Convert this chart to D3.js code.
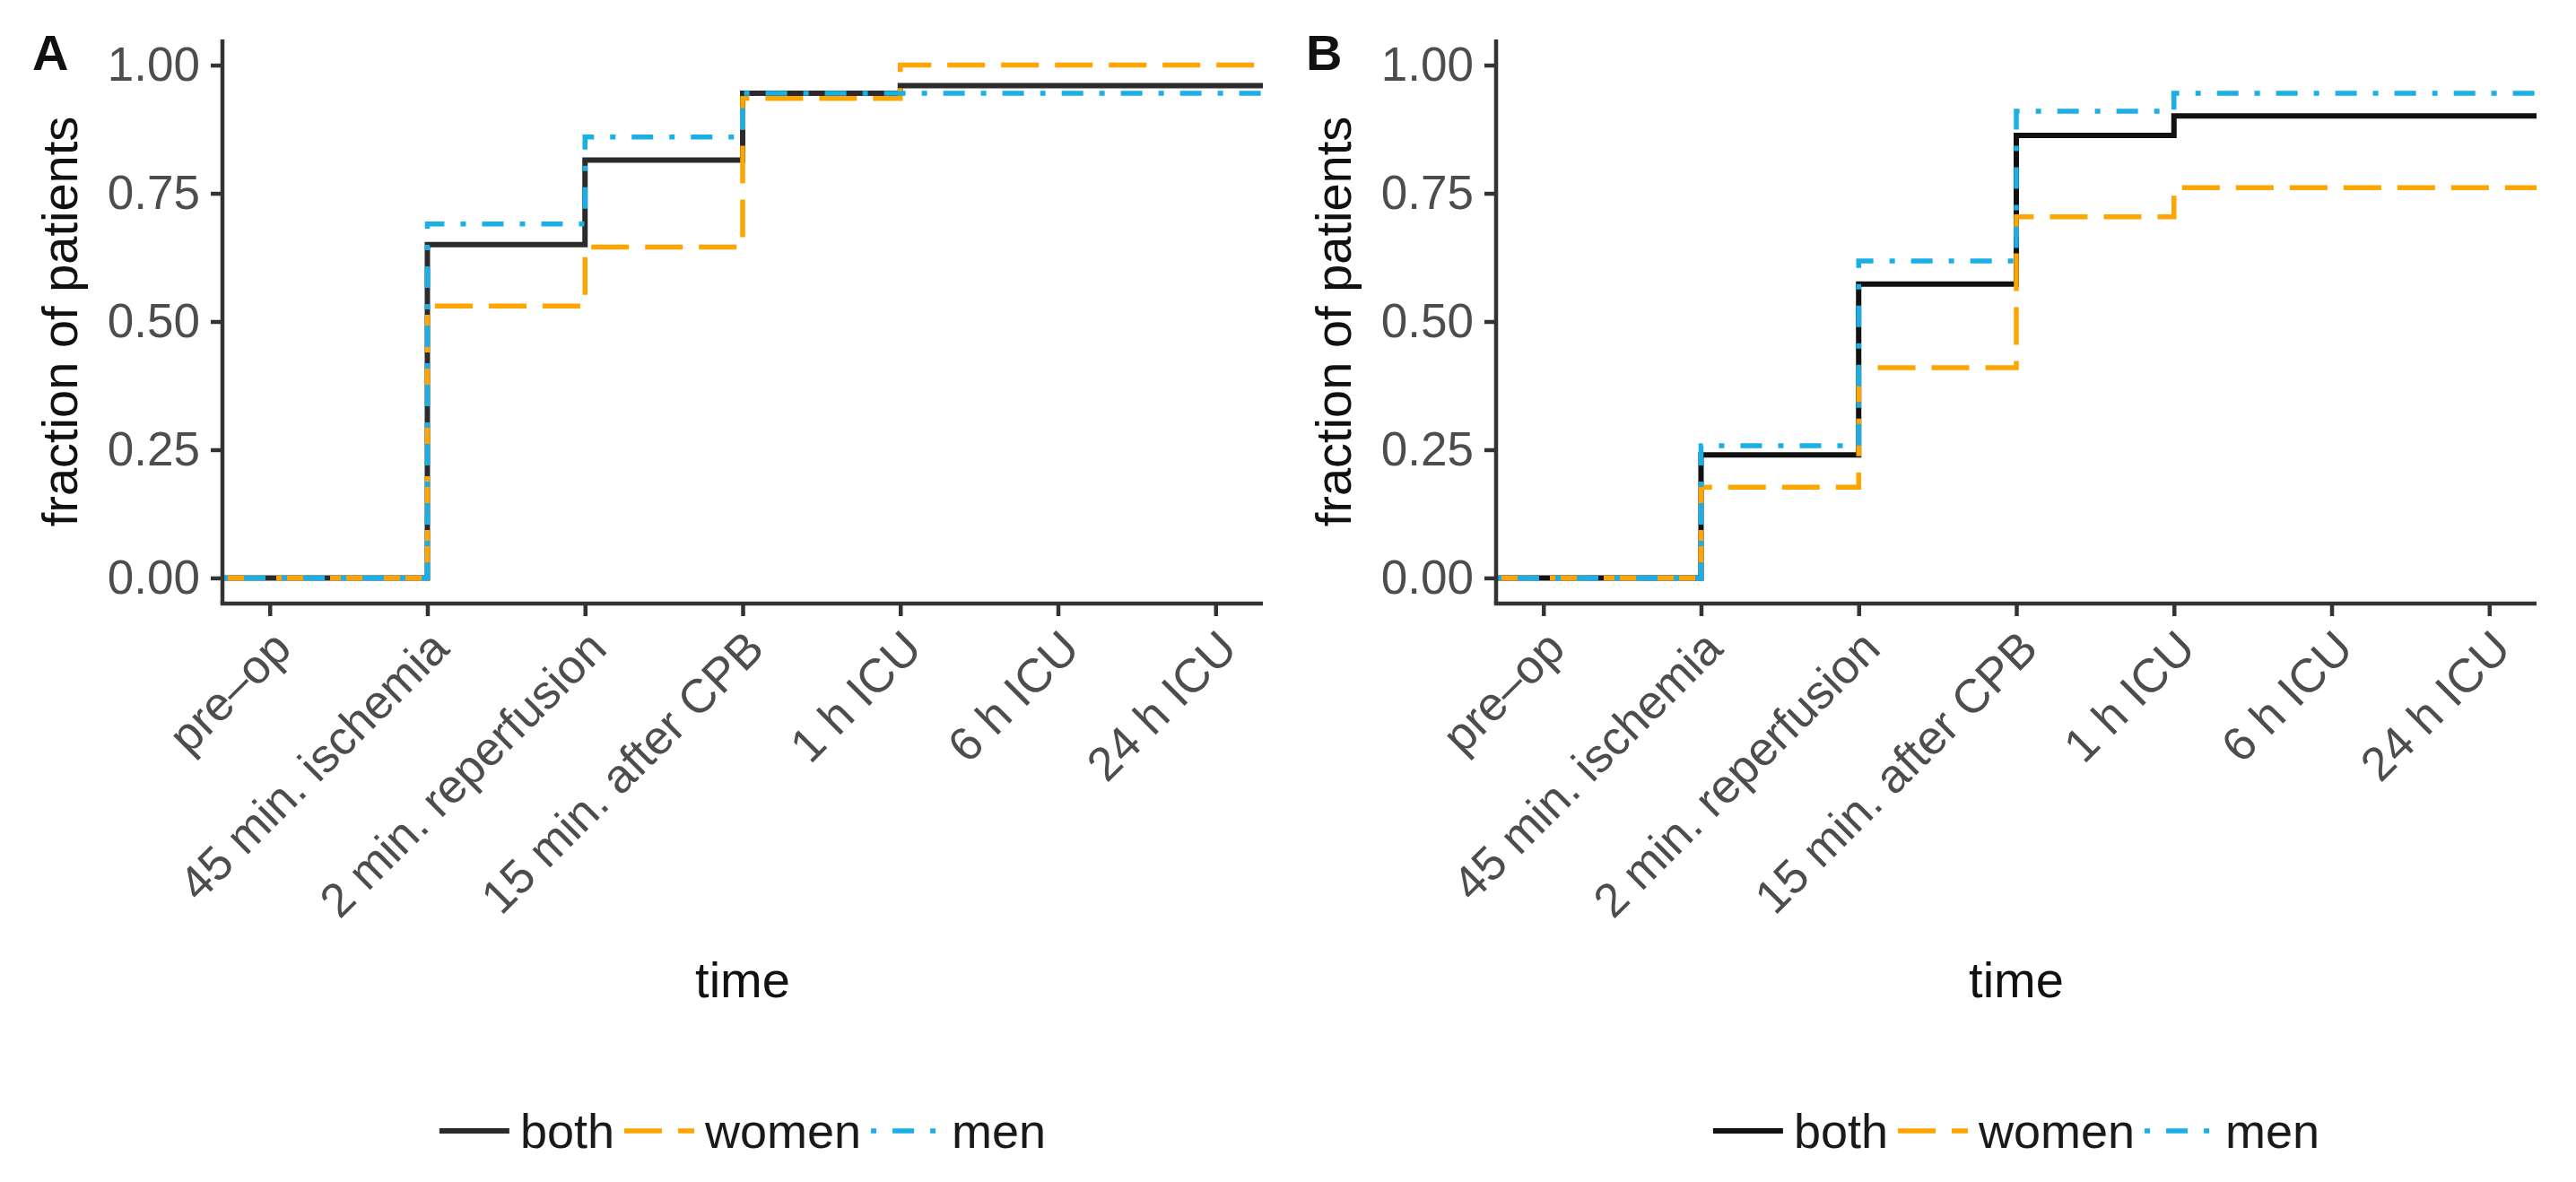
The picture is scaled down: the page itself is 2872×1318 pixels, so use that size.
<!DOCTYPE html>
<html>
<head>
<meta charset="utf-8">
<script src="https://cdn.jsdelivr.net/npm/d3@7"></script>
<style>
  html, body { margin: 0; padding: 0; background: #fff; }
  svg { display: block; }
  text { font-family: "Liberation Sans", Arial, Helvetica, sans-serif; }
</style>
</head>
<body>
<svg id="chart" width="2872" height="1318"></svg>
<script>
// ---------- data ----------
const categories = ["pre\u2013op", "45 min. ischemia", "2 min. reperfusion", "15 min. after CPB", "1 h ICU", "6 h ICU", "24 h ICU"];
const yTicks = [0, 0.25, 0.5, 0.75, 1.0];
const seriesNames = ["both", "women", "men"];

const bothA  = [0, 0.65, 0.815, 0.945, 0.96, 0.96, 0.96];
const womenA = [0, 0.53, 0.645, 0.935, 1.00, 1.00, 1.00];
const menA   = [0, 0.69, 0.86, 0.945, 0.945, 0.945, 0.945];

const bothB  = [0, 0.240, 0.573, 0.863, 0.901, 0.901, 0.901];
const womenB = [0, 0.177, 0.410, 0.704, 0.761, 0.761, 0.761];
const menB   = [0, 0.258, 0.618, 0.910, 0.945, 0.945, 0.945];

const panels = [
  { label: "A", series: [bothA, womenA, menA], left: 248, bothColor: "#2b2b2b" },
  { label: "B", series: [bothB, womenB, menB], left: 1668, bothColor: "#111111" }
];

// ---------- styles ----------
const styles = {
  both:  { color: null,      dash: null,          width: 6 },
  women: { color: "#FFA500", dash: "42,18",       width: 5.5 },
  men:   { color: "#1AAFE6", dash: "6,18,24,18",  width: 5.5 }
};

const svg = d3.select("#chart");
const panelWidth = 1160;
const plotTop = 44, plotBottom = 673;
const FONT_TICK = 53, FONT_TITLE = 56, FONT_LEGEND = 54;

const y = d3.scaleLinear().domain([-0.05, 1.05]).range([plotBottom, plotTop]);

panels.forEach((p) => {
  const g = svg.append("g");
  const x = d3.scaleLinear().domain([-0.3, categories.length - 1 + 0.3]).range([p.left, p.left + panelWidth]);

  const line = d3.line()
    .x(d => x(d[0]))
    .y(d => y(d[1]))
    .curve(d3.curveStepAfter);

  p.series.forEach((vals, si) => {
    const name = seriesNames[si];
    const st = styles[name];
    const pts = [[x.domain()[0], vals[0]]];
    vals.forEach((v, i) => pts.push([i, v]));
    pts.push([x.domain()[1], vals[vals.length - 1]]);
    g.append("path")
      .attr("d", line(pts))
      .attr("fill", "none")
      .attr("stroke", st.color || p.bothColor)
      .attr("stroke-width", st.width)
      .attr("stroke-dasharray", st.dash)
      .attr("stroke-linejoin", "miter")
      .attr("stroke-linecap", "butt");
  });

  // y axis
  const yAxis = d3.axisLeft(y).tickValues(yTicks).tickFormat(d3.format(".2f")).tickSize(13).tickPadding(12);
  const ya = g.append("g").attr("transform", `translate(${p.left},0)`).call(yAxis);
  ya.select(".domain").attr("stroke", "#333").attr("stroke-width", 4.5)
    .attr("d", `M0,${plotTop}V${plotBottom}`);
  ya.selectAll(".tick line").attr("stroke", "#333").attr("stroke-width", 4.5);
  ya.selectAll(".tick text")
    .attr("font-size", FONT_TICK)
    .attr("fill", "#4d4d4d")
    .attr("font-family", "Liberation Sans, Arial, sans-serif");

  // x axis
  const xAxis = d3.axisBottom(x).tickValues(d3.range(categories.length)).tickFormat(i => categories[i]).tickSize(14);
  const xa = g.append("g").attr("transform", `translate(0,${plotBottom})`).call(xAxis);
  xa.select(".domain").attr("stroke", "#333").attr("stroke-width", 4.5)
    .attr("d", `M${p.left - 2.25},0H${p.left + panelWidth}`);
  xa.selectAll(".tick line").attr("stroke", "#333").attr("stroke-width", 4.5);
  xa.selectAll(".tick text")
    .attr("font-size", FONT_TICK)
    .attr("fill", "#4d4d4d")
    .attr("font-family", "Liberation Sans, Arial, sans-serif")
    .attr("text-anchor", "end")
    .attr("dy", null)
    .attr("y", null)
    .attr("transform", "translate(26,53) rotate(-45)");

  // axis titles
  g.append("text")
    .attr("transform", `translate(${p.left - 162},${(plotTop + plotBottom) / 2}) rotate(-90)`)
    .attr("text-anchor", "middle")
    .attr("font-size", FONT_TITLE)
    .attr("fill", "#111")
    .text("fraction of patients");

  g.append("text")
    .attr("x", p.left + panelWidth / 2)
    .attr("y", 1112)
    .attr("text-anchor", "middle")
    .attr("font-size", FONT_TITLE)
    .attr("fill", "#111")
    .text("time");

  // panel label
  g.append("text")
    .attr("x", p.left - 212)
    .attr("y", 78)
    .attr("font-size", 56)
    .attr("font-weight", "bold")
    .attr("fill", "#111")
    .text(p.label);

  // legend
  const keyW = 78, gapKT = 12, gapTK = 11, ly = 1261;
  const lg = g.append("g");
  let cx = 0;
  seriesNames.forEach((name) => {
    const st = styles[name];
    lg.append("line")
      .attr("x1", cx).attr("x2", cx + keyW)
      .attr("y1", ly).attr("y2", ly)
      .attr("stroke", st.color || p.bothColor)
      .attr("stroke-width", st.width)
      .attr("stroke-dasharray", name === "men" ? "0,0,6,18,24,18,6,18" : st.dash);
    const t = lg.append("text")
      .attr("x", cx + keyW + gapKT)
      .attr("y", ly + 19)
      .attr("font-size", FONT_LEGEND)
      .attr("fill", "#1a1a1a")
      .text(name);
    cx += keyW + gapKT + t.node().getComputedTextLength() + gapTK;
  });
  const total = cx - gapTK;
  lg.attr("transform", `translate(${p.left + panelWidth / 2 - total / 2},0)`);
});
</script>
</body>
</html>
